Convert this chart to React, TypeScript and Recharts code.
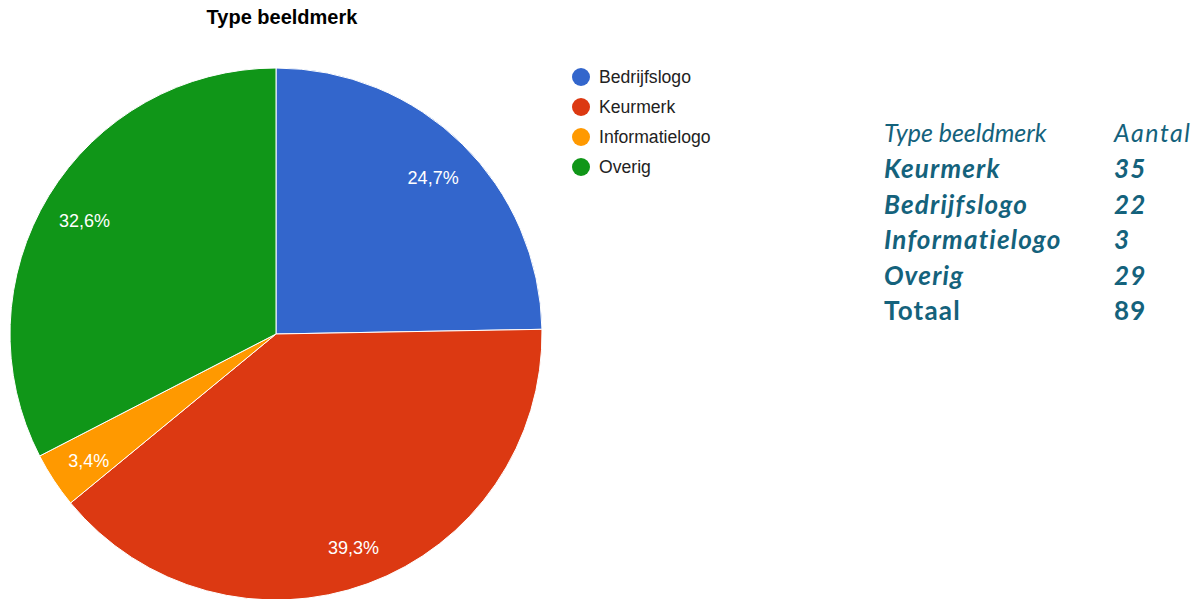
import React from "react";
import { PieChart, Pie, Cell, Legend } from "recharts";

const categories = ["Bedrijfslogo", "Keurmerk", "Informatielogo", "Overig"];
const counts = [22, 35, 3, 29];
const colors = ["#3366cc", "#dc3912", "#ff9900", "#109618"];

const tableHeader = ["Type beeldmerk", "Aantal"];
const tableRows = ["Keurmerk", "Bedrijfslogo", "Informatielogo", "Overig"];
const tableValues = [35, 22, 3, 29];
const totalLabel = "Totaal";
const totalValue = 89;

const data = categories.map((name, i) => ({ name, value: counts[i] }));

const RAD = Math.PI / 180;

const renderLabel = (props: any) => {
  const { cx, cy, midAngle, outerRadius, percent } = props;
  const r = outerRadius * 0.843;
  const x = cx + r * Math.cos(-midAngle * RAD);
  const y = cy + r * Math.sin(-midAngle * RAD) + 4;
  return (
    <text
      x={x}
      y={y}
      fill="#ffffff"
      textAnchor="middle"
      dominantBaseline="central"
      fontFamily="Arial, 'Liberation Sans', sans-serif"
      fontSize={18}
    >
      {(percent * 100).toFixed(1).replace(".", ",")}%
    </text>
  );
};

const renderLegend = () => (
  <div style={{ fontFamily: "Arial, 'Liberation Sans', sans-serif" }}>
    {categories.map((c, i) => (
      <div key={c} style={{ display: "flex", alignItems: "center", height: 30 }}>
        <span
          style={{
            display: "inline-block",
            width: 18,
            height: 18,
            borderRadius: "50%",
            background: colors[i],
            marginRight: 9,
          }}
        />
        <span style={{ fontSize: 17.6, color: "#222222" }}>{c}</span>
      </div>
    ))}
  </div>
);

const teal = "#14627c";

export default function App() {
  const rowStyle: React.CSSProperties = {
    position: "absolute",
    left: 0,
    height: 36,
    width: 330,
    fontFamily: "Lato, 'Open Sans', sans-serif",
    fontSize: 25,
    color: teal,
    lineHeight: "36px",
  };
  const rows = [
    ...tableRows.map((r, i) => ({ name: r, value: String(tableValues[i]), italic: true })),
    { name: totalLabel, value: String(totalValue), italic: false },
  ];
  return (
    <div style={{ position: "absolute", left: 0, top: 0, width: 1204, height: 599, background: "#fff", overflow: "hidden" }}>
      <div
        style={{
          position: "absolute",
          left: 132,
          width: 300,
          top: 6,
          textAlign: "center",
          fontFamily: "Arial, 'Liberation Sans', sans-serif",
          fontWeight: "bold",
          fontSize: 20,
          color: "#000",
        }}
      >
        Type beeldmerk
      </div>
      <PieChart
        width={1204}
        height={599}
        margin={{ top: 0, right: 0, bottom: 0, left: 0 }}
        style={{ position: "absolute", left: 0, top: 0 }}
      >
        <Pie
          data={data}
          dataKey="value"
          nameKey="name"
          cx={276}
          cy={334}
          outerRadius={266}
          startAngle={90}
          endAngle={-270}
          stroke="#ffffff"
          strokeWidth={1}
          label={renderLabel}
          labelLine={false}
          isAnimationActive={false}
        >
          {data.map((d, i) => (
            <Cell key={d.name} fill={colors[i]} />
          ))}
        </Pie>
        <Legend
          content={renderLegend}
          wrapperStyle={{ position: "absolute", left: 572, top: 62, width: 200 }}
        />
      </PieChart>
      <div style={{ position: "absolute", left: 884, top: 114 }}>
        <div style={{ ...rowStyle, top: 0, fontStyle: "italic" }}>
          <span style={{ position: "absolute", left: 0 }}>{tableHeader[0]}</span>
          <span style={{ position: "absolute", left: 230, letterSpacing: 1.5 }}>{tableHeader[1]}</span>
        </div>
        {rows.map((r, i) => (
          <div
            key={r.name}
            style={{
              ...rowStyle,
              top: 36 * (i + 1) - 0.5 * i,
              fontWeight: "bold",
              fontSize: 26,
              letterSpacing: 1.2,
              fontStyle: r.italic ? "italic" : "normal",
            }}
          >
            <span style={{ position: "absolute", left: 0 }}>{r.name}</span>
            <span style={{ position: "absolute", left: 230 }}>{r.value}</span>
          </div>
        ))}
      </div>
    </div>
  );
}
